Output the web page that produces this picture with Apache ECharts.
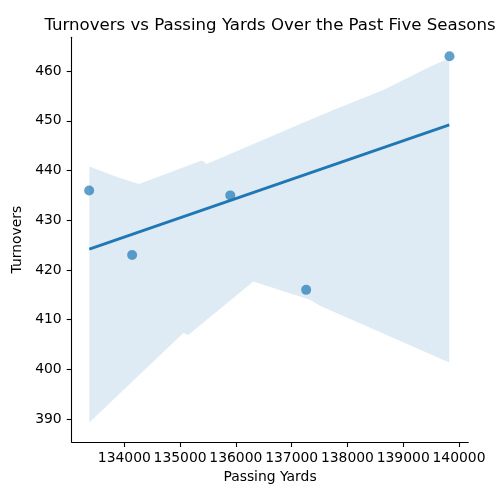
<!DOCTYPE html>
<html>
<head>
<meta charset="utf-8">
<script src="https://cdn.jsdelivr.net/npm/echarts@6/dist/echarts.min.js"></script>
<style>html,body{margin:0;padding:0;background:#fff}#c{width:500px;height:500px}</style>
</head>
<body>
<div id="c"></div>
<script>
// Observed data points
const passingYards = [133370, 134140, 135900, 137260, 139830];
const turnovers = [436, 423, 435, 416, 463];
// Regression line end points
const fitYards = [133373, 139826];
const fitTurnovers = [424.2, 449.2];
// Confidence band edges
const bandUpperYards = [133373, 133892, 134264, 135388, 135477, 136074, 136911, 137747, 138643, 139480, 139826];
const bandUpper = [440.8, 438.6, 437.3, 442.0, 441.3, 444.2, 448.2, 452.2, 456.2, 460.9, 462.6];
const bandLowerYards = [133373, 135058, 135147, 136313, 137329, 137508, 139826];
const bandLower = [389.3, 407.3, 406.9, 417.7, 414.0, 412.8, 401.4];
// Tick labels
const xTicks = [134000, 135000, 136000, 137000, 138000, 139000, 140000];
const yTicks = [390, 400, 410, 420, 430, 440, 450, 460];

const FONT = 'DejaVu Sans';
const chart = echarts.init(document.getElementById('c'), null, {renderer: 'canvas'});

const polygonPts = [];
for (let i = 0; i < bandUpperYards.length; i++) polygonPts.push([bandUpperYards[i], bandUpper[i]]);
for (let i = bandLowerYards.length - 1; i >= 0; i--) polygonPts.push([bandLowerYards[i], bandLower[i]]);

const axisCommon = {
  axisLine: {show: true, lineStyle: {color: '#000', width: 1.1}},
  axisTick: {show: true, inside: false, length: 5, lineStyle: {color: '#000', width: 1.1}},
  splitLine: {show: false},
  nameTextStyle: {fontFamily: FONT, fontSize: 13.9, color: '#000'}
};

chart.setOption({
  animation: false,
  backgroundColor: '#fff',
  title: {
    text: 'Turnovers vs Passing Yards Over the Past Five Seasons',
    left: 265, top: 12, textAlign: 'center',
    textStyle: {fontFamily: FONT, fontSize: 16.6, fontWeight: 'normal', color: '#000'}
  },
  grid: {left: 71.7, right: 31.7, top: 37.3, bottom: 58, containLabel: false},
  xAxis: Object.assign({}, axisCommon, {
    type: 'value', min: 133057, max: 140167,
    name: 'Passing Yards', nameLocation: 'middle', nameGap: 28,
    axisTick: Object.assign({}, axisCommon.axisTick, {customValues: xTicks}),
    axisLabel: {customValues: xTicks, hideOverlap: false, showMinLabel: true, showMaxLabel: true,
      formatter: v => String(v), fontFamily: FONT, fontSize: 13.9, color: '#000', margin: 9}
  }),
  yAxis: Object.assign({}, axisCommon, {
    type: 'value', min: 385.4, max: 466.8,
    name: 'Turnovers', nameLocation: 'middle', nameGap: 41, nameRotate: 90,
    axisTick: Object.assign({}, axisCommon.axisTick, {customValues: yTicks}),
    axisLabel: {customValues: yTicks, formatter: v => String(v), fontFamily: FONT, fontSize: 13.9, color: '#000', margin: 10}
  }),
  series: [
    {
      type: 'custom',
      z: 1,
      silent: true,
      data: [[bandUpperYards[0], bandUpper[0]]],
      renderItem: function (params, api) {
        const pts = polygonPts.map(p => api.coord(p));
        return {
          type: 'polygon',
          shape: {points: pts},
          style: {fill: 'rgba(31,119,180,0.15)', stroke: null}
        };
      }
    },
    {
      type: 'line',
      z: 2,
      data: fitYards.map((x, i) => [x, fitTurnovers[i]]),
      showSymbol: false,
      lineStyle: {color: '#1f77b4', width: 2.8},
      silent: true
    },
    {
      type: 'scatter',
      z: 3,
      data: passingYards.map((x, i) => [x, turnovers[i]]),
      symbolSize: 10,
      itemStyle: {color: 'rgba(31,119,180,0.88)'}
    }
  ]
});
</script>
</body>
</html>
